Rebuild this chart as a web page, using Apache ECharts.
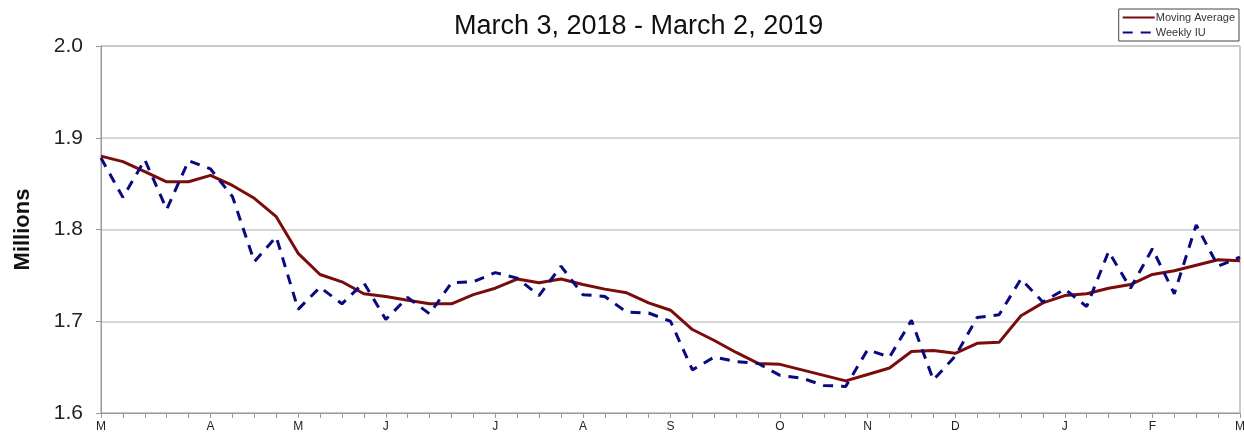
<!DOCTYPE html>
<html>
<head>
<meta charset="utf-8">
<script src="https://cdn.jsdelivr.net/npm/echarts@6/dist/echarts.min.js"></script>
<style>
  html, body { margin: 0; padding: 0; background: #fff; }
  #chart { width: 1244px; height: 435px; }
</style>
</head>
<body>
<div id="chart"></div>
<script>
// weekly dates, March 3, 2018 - March 2, 2019
var weeks = [
    '2018-03-03', '2018-03-10', '2018-03-17', '2018-03-24', '2018-03-31',
    '2018-04-07', '2018-04-14', '2018-04-21', '2018-04-28',
    '2018-05-05', '2018-05-12', '2018-05-19', '2018-05-26',
    '2018-06-02', '2018-06-09', '2018-06-16', '2018-06-23', '2018-06-30',
    '2018-07-07', '2018-07-14', '2018-07-21', '2018-07-28',
    '2018-08-04', '2018-08-11', '2018-08-18', '2018-08-25',
    '2018-09-01', '2018-09-08', '2018-09-15', '2018-09-22', '2018-09-29',
    '2018-10-06', '2018-10-13', '2018-10-20', '2018-10-27',
    '2018-11-03', '2018-11-10', '2018-11-17', '2018-11-24',
    '2018-12-01', '2018-12-08', '2018-12-15', '2018-12-22', '2018-12-29',
    '2019-01-05', '2019-01-12', '2019-01-19', '2019-01-26',
    '2019-02-02', '2019-02-09', '2019-02-16', '2019-02-23',
    '2019-03-02'
];

// month initials, shown on the first week of each month
var monthIdx = [0, 5, 9, 13, 18, 22, 26, 31, 35, 39, 44, 48, 52];
var monthTxt = ['M', 'A', 'M', 'J', 'J', 'A', 'S', 'O', 'N', 'D', 'J', 'F', 'M'];

// y axis ticks (millions)
var yTicks = [1.6, 1.7, 1.8, 1.9, 2.0];

var movingAvg = [
    1.880, 1.874, 1.863, 1.852, 1.852, 1.859, 1.848, 1.834, 1.814, 1.774,
    1.751, 1.743, 1.730, 1.727, 1.723, 1.719, 1.719, 1.729, 1.736, 1.746,
    1.742, 1.746, 1.740, 1.735, 1.731, 1.720, 1.712, 1.691, 1.679, 1.666,
    1.654, 1.653, 1.647, 1.641, 1.635, 1.642, 1.649, 1.667, 1.668, 1.665,
    1.676, 1.677, 1.706, 1.720, 1.728, 1.730, 1.736, 1.740, 1.751, 1.755,
    1.761, 1.767, 1.766
];

var weeklyIU = [
    1.878, 1.835, 1.876, 1.822, 1.875, 1.866, 1.836, 1.765, 1.792, 1.713,
    1.737, 1.719, 1.742, 1.702, 1.726, 1.708, 1.742, 1.743, 1.753, 1.747,
    1.728, 1.760, 1.729, 1.727, 1.710, 1.709, 1.700, 1.647, 1.661, 1.656,
    1.654, 1.641, 1.638, 1.630, 1.629, 1.669, 1.661, 1.701, 1.636, 1.662,
    1.704, 1.707, 1.746, 1.721, 1.735, 1.716, 1.776, 1.736, 1.779, 1.730,
    1.805, 1.760, 1.770
];

var FONT = '"Liberation Sans", Arial, sans-serif';

var myChart = echarts.init(document.getElementById('chart'));

var option = {
    backgroundColor: '#fff',
    animation: false,
    title: {
        text: 'March 3, 2018 - March 2, 2019',
        left: 449,
        top: 8,
        textStyle: {
            fontFamily: FONT,
            fontSize: 27,
            fontWeight: 'normal',
            color: '#111'
        }
    },
    legend: {
        orient: 'vertical',
        right: 5,
        top: 9,
        backgroundColor: '#fff',
        borderColor: '#444',
        borderWidth: 1,
        padding: [3, 4, 3, 3],
        itemGap: 4,
        itemWidth: 32,
        itemHeight: 10,
        itemStyle: { opacity: 0 },
        textStyle: {
            fontFamily: FONT,
            fontSize: 11,
            color: '#333',
            padding: [0, 0, 0, -4]
        },
        data: ['Moving Average', 'Weekly IU']
    },
    grid: {
        left: 101,
        right: 4,
        top: 46,
        bottom: 22,
        outerBoundsMode: 'none',
        containLabel: false,
        show: true,
        borderColor: '#999',
        borderWidth: 1
    },
    xAxis: {
        type: 'category',
        data: weeks,
        boundaryGap: false,
        axisLine: { lineStyle: { color: '#999', width: 1 } },
        axisTick: { show: true, interval: 0, length: 5, lineStyle: { color: '#999' } },
        axisLabel: {
            interval: 0,
            margin: 8,
            fontFamily: FONT,
            fontSize: 12,
            color: '#222',
            formatter: function (val, i) {
                var p = monthIdx.indexOf(i);
                return p >= 0 ? monthTxt[p] : '';
            }
        },
        splitLine: { show: false }
    },
    yAxis: {
        type: 'value',
        min: yTicks[0],
        max: yTicks[yTicks.length - 1],
        interval: 0.1,
        name: 'Millions',
        nameLocation: 'middle',
        nameRotate: 90,
        nameGap: 67,
        nameTextStyle: {
            fontFamily: FONT,
            fontSize: 22,
            fontWeight: 'bold',
            color: '#111'
        },
        axisLine: { show: true, lineStyle: { color: '#999', width: 1 } },
        axisTick: { show: true, length: 5, lineStyle: { color: '#999' } },
        axisLabel: {
            margin: 18,
            fontFamily: FONT,
            fontSize: 21,
            color: '#222',
            formatter: function (v) { return v.toFixed(1); }
        },
        splitLine: { show: true, lineStyle: { color: '#c8c8c8', width: 1.5 } }
    },
    series: [{
        name: 'Moving Average',
        type: 'line',
        data: movingAvg,
        symbol: 'none',
        itemStyle: { color: '#7b0c0c' },
        lineStyle: { color: '#7b0c0c', width: 3 }
    }, {
        name: 'Weekly IU',
        type: 'line',
        data: weeklyIU,
        symbol: 'none',
        itemStyle: { color: '#0a0a80' },
        lineStyle: { color: '#0a0a80', width: 3, type: [10, 8] }
    }]
};

myChart.setOption(option);
</script>
</body>
</html>
